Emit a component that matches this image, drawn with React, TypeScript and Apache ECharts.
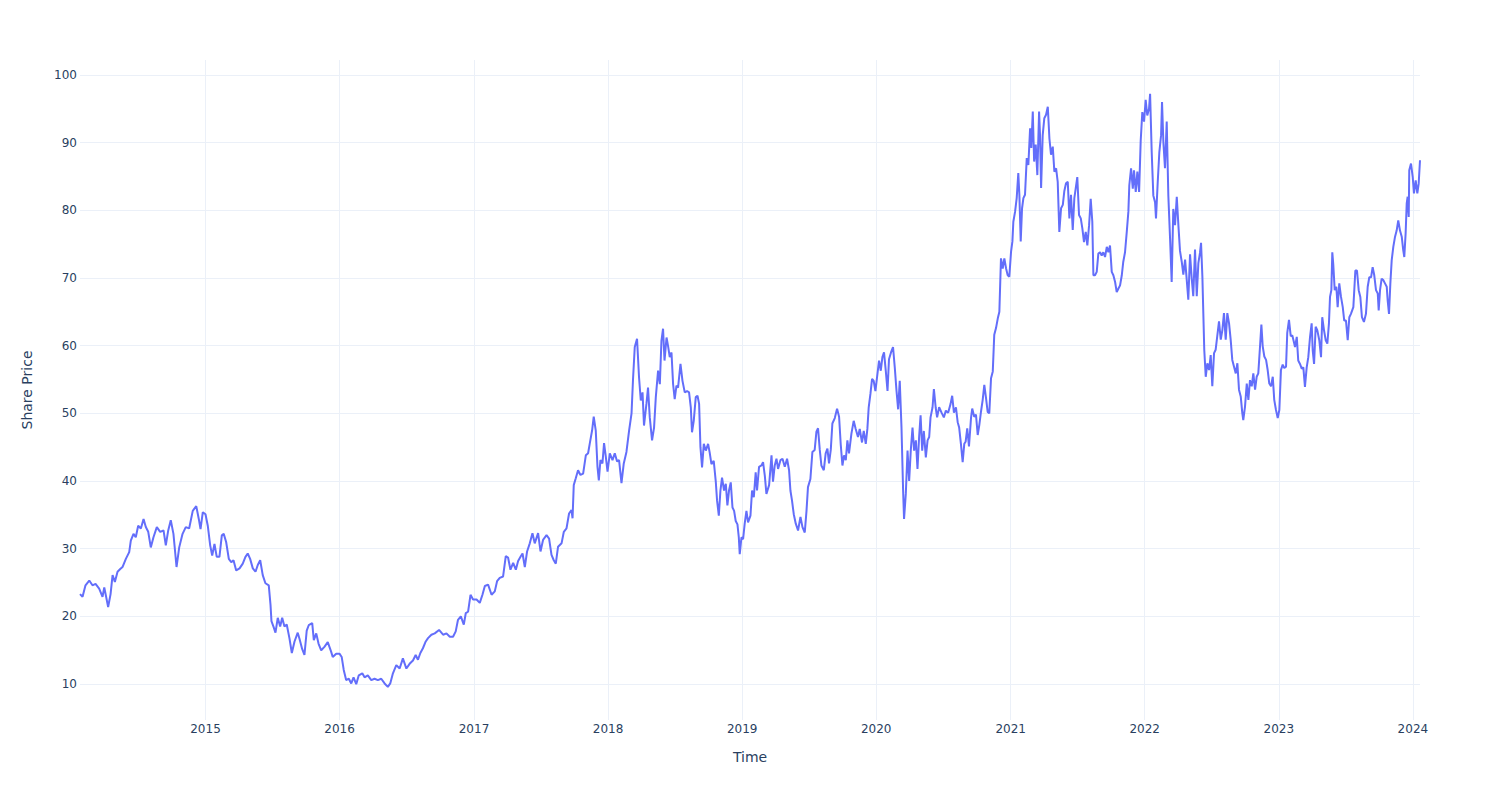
import React, { useEffect, useRef } from "react";
import * as echarts from "echarts";

// Share price readings: [decimal year, price]
const y2014: [number, number][] = [
  [2014.064,23.3],[2014.083,22.9],[2014.105,24.6],[2014.133,25.3],[2014.157,24.6],[2014.180,24.8],[2014.207,24.1],[2014.232,22.9],[2014.245,24.3],[2014.274,21.4],[2014.292,23.3],[2014.307,26.1],[2014.324,25.1],[2014.344,26.6],[2014.364,27.0],[2014.381,27.3],[2014.406,28.5],[2014.431,29.5],[2014.443,31.2],[2014.463,32.2],[2014.480,31.7],[2014.498,33.4],[2014.518,33.0],[2014.538,34.4],[2014.555,33.2],[2014.573,32.5],[2014.592,30.2],[2014.612,31.7],[2014.637,33.2],[2014.662,32.5],[2014.687,32.7],[2014.704,30.5],[2014.722,32.7],[2014.741,34.2],[2014.761,32.2],[2014.784,27.3],[2014.804,30.2],[2014.829,32.2],[2014.853,33.2],[2014.878,33.0],[2014.905,35.6],[2014.931,36.3],[2014.950,34.4],[2014.963,32.9],[2014.980,35.4],
];
const y2015: [number, number][] = [
  [2015.000,35.1],[2015.017,33.4],[2015.035,30.5],[2015.050,29.0],[2015.067,30.7],[2015.084,28.8],[2015.104,28.8],[2015.122,32.0],[2015.136,32.2],[2015.154,31.0],[2015.174,28.5],[2015.192,28.0],[2015.209,28.3],[2015.229,26.8],[2015.254,27.1],[2015.278,27.8],[2015.298,28.8],[2015.315,29.3],[2015.333,28.5],[2015.353,27.1],[2015.373,26.6],[2015.390,27.6],[2015.408,28.3],[2015.427,26.1],[2015.447,24.9],[2015.472,24.6],[2015.485,21.7],[2015.492,19.3],[2015.507,18.5],[2015.522,17.6],[2015.539,19.8],[2015.557,18.5],[2015.572,19.8],[2015.589,18.5],[2015.606,18.8],[2015.626,16.8],[2015.644,14.6],[2015.664,16.3],[2015.688,17.6],[2015.701,16.7],[2015.721,15.2],[2015.738,14.3],[2015.755,17.9],[2015.770,18.7],[2015.796,19.0],[2015.808,16.5],[2015.826,17.5],[2015.843,16.0],[2015.863,15.0],[2015.887,15.5],[2015.912,16.2],[2015.937,14.8],[2015.949,14.0],[2015.975,14.5],[2015.999,14.5],
];
const y2016: [number, number][] = [
  [2016.016,14.0],[2016.031,12.1],[2016.049,10.6],[2016.069,10.8],[2016.087,10.1],[2016.104,11.0],[2016.124,10.0],[2016.143,11.3],[2016.169,11.6],[2016.186,11.0],[2016.210,11.3],[2016.236,10.6],[2016.260,10.8],[2016.285,10.6],[2016.310,10.8],[2016.335,10.1],[2016.359,9.6],[2016.377,10.1],[2016.397,11.6],[2016.422,12.8],[2016.447,12.3],[2016.471,13.8],[2016.497,12.3],[2016.521,13.0],[2016.546,13.5],[2016.566,14.3],[2016.583,13.6],[2016.601,14.6],[2016.620,15.3],[2016.641,16.3],[2016.658,16.8],[2016.683,17.3],[2016.708,17.5],[2016.740,18.0],[2016.770,17.3],[2016.795,17.5],[2016.820,17.0],[2016.844,17.0],[2016.864,17.8],[2016.881,19.5],[2016.902,20.0],[2016.924,18.8],[2016.939,20.5],[2016.956,20.7],[2016.974,23.2],[2016.993,22.5],
];
const y2017: [number, number][] = [
  [2017.019,22.5],[2017.043,22.0],[2017.063,23.2],[2017.081,24.5],[2017.105,24.7],[2017.131,23.2],[2017.155,23.7],[2017.172,25.2],[2017.192,25.7],[2017.217,25.9],[2017.237,28.9],[2017.254,28.7],[2017.272,26.9],[2017.292,27.9],[2017.312,26.9],[2017.329,28.2],[2017.349,28.9],[2017.362,29.3],[2017.379,27.3],[2017.396,29.6],[2017.416,30.8],[2017.436,32.3],[2017.453,30.8],[2017.478,32.3],[2017.496,29.6],[2017.515,31.3],[2017.541,32.0],[2017.560,31.5],[2017.578,29.1],[2017.595,28.3],[2017.610,27.8],[2017.627,30.3],[2017.653,30.8],[2017.670,32.5],[2017.690,33.0],[2017.709,35.2],[2017.727,35.7],[2017.735,34.5],[2017.744,39.4],[2017.759,40.4],[2017.776,41.6],[2017.794,40.9],[2017.814,41.1],[2017.834,43.8],[2017.851,44.1],[2017.864,45.6],[2017.881,47.5],[2017.893,49.5],[2017.908,47.5],[2017.921,42.1],[2017.931,40.1],[2017.943,43.1],[2017.958,42.6],[2017.970,45.6],[2017.983,43.6],[2017.996,41.4],
];
const y2018: [number, number][] = [
  [2018.013,44.1],[2018.033,43.1],[2018.050,44.1],[2018.067,42.9],[2018.082,43.1],[2018.100,39.7],[2018.117,42.6],[2018.137,44.3],[2018.157,47.5],[2018.175,50.0],[2018.186,55.0],[2018.199,59.8],[2018.216,61.0],[2018.231,55.3],[2018.244,51.9],[2018.257,53.1],[2018.268,48.2],[2018.286,51.4],[2018.298,53.8],[2018.311,49.4],[2018.328,46.0],[2018.343,47.9],[2018.356,52.4],[2018.373,56.3],[2018.386,54.3],[2018.398,60.7],[2018.410,62.5],[2018.421,57.8],[2018.436,61.2],[2018.447,60.0],[2018.460,58.3],[2018.473,59.0],[2018.485,54.3],[2018.497,52.1],[2018.510,54.1],[2018.522,53.8],[2018.540,57.3],[2018.555,54.8],[2018.572,53.1],[2018.589,53.3],[2018.604,53.1],[2018.617,50.9],[2018.626,47.2],[2018.639,48.9],[2018.654,52.4],[2018.667,52.6],[2018.679,51.4],[2018.689,45.0],[2018.701,42.0],[2018.714,45.5],[2018.729,44.5],[2018.746,45.5],[2018.758,44.2],[2018.771,42.5],[2018.788,43.0],[2018.803,40.0],[2018.813,37.1],[2018.826,34.9],[2018.838,38.6],[2018.850,40.5],[2018.865,38.6],[2018.878,39.6],[2018.890,36.4],[2018.902,38.6],[2018.915,39.8],[2018.928,36.1],[2018.940,35.6],[2018.952,34.1],[2018.965,33.6],[2018.975,31.7],[2018.982,29.2],[2018.995,31.7],
];
const y2019: [number, number][] = [
  [2019.007,31.4],[2019.019,33.7],[2019.032,35.6],[2019.044,33.9],[2019.062,34.9],[2019.074,38.6],[2019.087,37.6],[2019.101,41.3],[2019.111,38.6],[2019.126,42.1],[2019.144,42.3],[2019.156,42.8],[2019.169,40.8],[2019.181,38.1],[2019.201,39.4],[2019.219,43.8],[2019.230,39.9],[2019.243,42.3],[2019.256,43.3],[2019.268,41.8],[2019.286,43.1],[2019.301,43.3],[2019.318,42.1],[2019.335,43.3],[2019.350,41.6],[2019.360,38.6],[2019.372,37.1],[2019.385,35.1],[2019.400,33.7],[2019.417,32.7],[2019.435,34.7],[2019.450,33.2],[2019.467,32.4],[2019.480,35.6],[2019.491,39.1],[2019.509,40.3],[2019.524,44.3],[2019.541,44.6],[2019.554,47.3],[2019.566,47.8],[2019.579,44.6],[2019.591,42.3],[2019.609,41.6],[2019.623,44.1],[2019.636,44.8],[2019.648,42.6],[2019.661,44.6],[2019.673,48.5],[2019.691,49.3],[2019.708,50.7],[2019.723,49.5],[2019.735,45.5],[2019.748,42.3],[2019.760,43.8],[2019.773,43.1],[2019.785,46.0],[2019.797,44.1],[2019.815,47.0],[2019.832,48.9],[2019.847,47.7],[2019.864,46.5],[2019.877,47.7],[2019.894,45.7],[2019.907,47.4],[2019.922,45.5],[2019.934,47.7],[2019.944,50.9],[2019.957,52.9],[2019.969,55.1],[2019.981,54.8],[2019.994,53.3],
];
const y2020: [number, number][] = [
  [2020.006,55.3],[2020.021,57.8],[2020.034,56.3],[2020.046,58.3],[2020.058,59.0],[2020.071,56.3],[2020.084,53.3],[2020.095,58.0],[2020.110,59.0],[2020.125,59.8],[2020.138,56.8],[2020.151,53.3],[2020.163,50.6],[2020.175,54.8],[2020.188,47.9],[2020.200,38.6],[2020.207,34.4],[2020.220,38.1],[2020.233,44.5],[2020.245,40.0],[2020.257,44.5],[2020.270,47.9],[2020.282,44.5],[2020.295,46.0],[2020.307,41.8],[2020.319,46.5],[2020.330,49.7],[2020.342,44.5],[2020.354,47.4],[2020.369,43.5],[2020.382,46.0],[2020.394,46.5],[2020.404,49.4],[2020.419,50.9],[2020.429,53.6],[2020.442,50.9],[2020.453,49.4],[2020.468,50.9],[2020.486,50.1],[2020.503,49.4],[2020.518,50.4],[2020.535,50.1],[2020.553,51.4],[2020.565,52.6],[2020.578,50.1],[2020.593,50.9],[2020.606,48.7],[2020.617,47.9],[2020.630,45.5],[2020.643,42.8],[2020.655,45.5],[2020.665,45.8],[2020.677,47.8],[2020.690,45.1],[2020.705,49.3],[2020.714,50.7],[2020.729,49.5],[2020.742,49.8],[2020.755,46.8],[2020.767,48.3],[2020.779,50.2],[2020.792,52.0],[2020.804,54.2],[2020.817,52.2],[2020.829,50.2],[2020.841,50.0],[2020.854,55.2],[2020.867,56.2],[2020.878,61.6],[2020.891,62.6],[2020.904,64.0],[2020.916,65.0],[2020.928,72.9],[2020.941,71.4],[2020.953,72.9],[2020.966,71.4],[2020.978,70.4],[2020.990,70.2],
];
const y2021: [number, number][] = [
  [2021.003,73.9],[2021.013,75.4],[2021.020,78.3],[2021.033,79.8],[2021.045,81.8],[2021.057,85.5],[2021.065,82.3],[2021.075,75.4],[2021.085,80.3],[2021.095,81.8],[2021.107,82.3],[2021.120,87.7],[2021.132,86.7],[2021.145,92.1],[2021.154,89.2],[2021.165,94.6],[2021.175,87.2],[2021.187,89.7],[2021.199,85.2],[2021.212,94.6],[2021.219,91.1],[2021.227,83.3],[2021.239,91.1],[2021.251,93.6],[2021.264,94.1],[2021.277,95.3],[2021.289,90.6],[2021.301,88.2],[2021.314,89.4],[2021.326,85.7],[2021.339,86.2],[2021.351,84.2],[2021.363,76.8],[2021.376,80.3],[2021.389,80.8],[2021.400,82.8],[2021.413,84.0],[2021.426,84.2],[2021.438,78.8],[2021.450,82.3],[2021.463,77.1],[2021.475,81.8],[2021.497,84.9],[2021.510,79.3],[2021.523,78.8],[2021.535,77.3],[2021.547,75.3],[2021.560,76.8],[2021.572,74.8],[2021.585,77.8],[2021.597,81.7],[2021.609,78.3],[2021.617,70.4],[2021.629,70.4],[2021.642,70.9],[2021.654,73.6],[2021.667,73.8],[2021.679,73.3],[2021.691,73.8],[2021.704,73.1],[2021.717,74.6],[2021.729,73.8],[2021.741,74.8],[2021.754,70.9],[2021.766,70.4],[2021.779,69.4],[2021.791,67.9],[2021.803,68.4],[2021.816,68.9],[2021.829,70.4],[2021.840,72.4],[2021.853,73.8],[2021.866,76.8],[2021.878,79.8],[2021.885,83.7],[2021.898,86.2],[2021.911,83.2],[2021.920,85.9],[2021.933,82.7],[2021.945,85.7],[2021.958,82.7],[2021.970,90.3],[2021.982,94.5],[2021.995,93.1],
];
const y2022: [number, number][] = [
  [2022.007,96.3],[2022.019,94.0],[2022.032,95.0],[2022.040,97.2],[2022.052,88.6],[2022.064,82.2],[2022.077,81.2],[2022.084,78.8],[2022.097,84.2],[2022.109,88.6],[2022.122,91.1],[2022.129,96.0],[2022.139,90.1],[2022.151,86.2],[2022.164,93.1],[2022.176,82.2],[2022.189,75.8],[2022.201,69.4],[2022.213,80.2],[2022.226,77.8],[2022.239,82.0],[2022.251,77.8],[2022.263,74.0],[2022.276,72.4],[2022.288,70.5],[2022.301,72.7],[2022.313,69.8],[2022.325,66.8],[2022.338,73.5],[2022.351,69.8],[2022.362,67.3],[2022.375,74.2],[2022.388,67.3],[2022.400,72.2],[2022.412,73.7],[2022.420,75.2],[2022.430,70.2],[2022.437,64.8],[2022.444,59.4],[2022.455,55.4],[2022.467,57.4],[2022.480,56.4],[2022.492,58.6],[2022.504,54.0],[2022.517,58.9],[2022.529,59.4],[2022.541,61.4],[2022.554,63.6],[2022.567,60.9],[2022.579,62.3],[2022.591,64.8],[2022.604,60.9],[2022.616,64.8],[2022.629,63.3],[2022.641,60.9],[2022.653,57.9],[2022.666,56.9],[2022.679,55.9],[2022.691,57.4],[2022.703,53.5],[2022.716,52.5],[2022.728,50.0],[2022.735,49.0],[2022.748,51.0],[2022.761,54.4],[2022.773,52.0],[2022.785,54.9],[2022.798,54.0],[2022.810,55.9],[2022.823,53.5],[2022.835,55.4],[2022.847,55.9],[2022.860,59.9],[2022.870,63.1],[2022.880,59.9],[2022.892,58.4],[2022.905,57.9],[2022.917,56.4],[2022.929,54.4],[2022.942,54.0],[2022.955,55.4],[2022.966,52.0],[2022.979,50.5],[2022.992,49.3],
];
const y2023: [number, number][] = [
  [2023.004,50.5],[2023.016,56.4],[2023.029,57.2],[2023.041,56.7],[2023.054,56.9],[2023.063,61.9],[2023.076,63.8],[2023.089,61.4],[2023.101,61.5],[2023.113,60.5],[2023.121,59.8],[2023.134,61.3],[2023.145,57.8],[2023.158,57.3],[2023.171,56.6],[2023.183,56.8],[2023.195,53.9],[2023.208,56.8],[2023.220,58.3],[2023.233,61.3],[2023.245,63.3],[2023.253,59.3],[2023.263,57.3],[2023.275,62.8],[2023.287,62.3],[2023.302,60.8],[2023.315,58.3],[2023.324,64.2],[2023.337,62.3],[2023.350,60.8],[2023.362,60.3],[2023.374,63.3],[2023.382,67.2],[2023.392,68.2],[2023.399,73.8],[2023.406,72.1],[2023.417,68.2],[2023.429,68.7],[2023.439,65.7],[2023.451,69.2],[2023.464,67.2],[2023.477,65.7],[2023.488,63.7],[2023.501,63.7],[2023.514,60.8],[2023.526,64.2],[2023.538,64.7],[2023.556,65.7],[2023.571,71.1],[2023.583,71.1],[2023.596,68.2],[2023.608,67.2],[2023.620,64.2],[2023.635,63.5],[2023.650,64.7],[2023.663,68.7],[2023.675,70.1],[2023.688,70.1],[2023.700,71.6],[2023.712,70.4],[2023.725,68.2],[2023.738,67.7],[2023.745,65.2],[2023.755,68.2],[2023.767,69.9],[2023.779,69.7],[2023.792,69.2],[2023.805,68.7],[2023.812,66.7],[2023.822,64.7],[2023.832,69.2],[2023.842,72.6],[2023.854,74.6],[2023.867,76.1],[2023.879,77.0],[2023.891,78.5],[2023.904,77.0],[2023.917,76.1],[2023.928,74.1],[2023.936,73.1],[2023.946,76.6],[2023.954,81.0],[2023.961,82.0],[2023.969,79.0],[2023.973,85.9],[2023.986,86.9],[2023.999,84.9],
];
const y2024: [number, number][] = [
  [2024.008,82.5],[2024.021,84.4],[2024.033,82.5],[2024.043,83.9],[2024.053,87.4],
];

const yRange = [4.7, 102.2];
const xTitle = "Time";
const yTitle = "Share Price";

const FONT = "'DejaVu Sans', Verdana, sans-serif";
const TEXT = "#2a3f5f";
const GRID = "#ebf0f8";
const LINE = "#636efa";
const YEAR_MS = 365 * 24 * 3600 * 1000;

// decimal year -> UTC timestamp
function toTime(d: number): number {
  const y = Math.floor(d);
  const s = Date.UTC(y, 0, 1);
  const e = Date.UTC(y + 1, 0, 1);
  return s + (d - y) * (e - s);
}

export default function App() {
  const ref = useRef<HTMLDivElement>(null);
  useEffect(() => {
    if (!ref.current) return;
    const chart = echarts.init(ref.current, undefined, { renderer: "svg" });
    const all = [...y2014, ...y2015, ...y2016, ...y2017, ...y2018, ...y2019, ...y2020, ...y2021, ...y2022, ...y2023, ...y2024];
    const data = all.map(([t, v]) => [toTime(t), v]);
    chart.setOption({
      animation: false,
      useUTC: true,
      backgroundColor: "#ffffff",
      grid: { left: 80, right: 80, top: 60, bottom: 80 },
      xAxis: {
        type: "time",
        min: "dataMin",
        max: "dataMax",
        splitNumber: 10,
        minInterval: YEAR_MS,
        maxInterval: YEAR_MS * 1.01,
        axisLine: { show: false },
        axisTick: { show: false },
        axisLabel: {
          formatter: "{yyyy}",
          color: TEXT,
          fontSize: 12,
          fontFamily: FONT,
          margin: 3,
          showMinLabel: false,
          showMaxLabel: false,
        },
        splitLine: { show: true, showMinLine: false, showMaxLine: false, lineStyle: { color: GRID, width: 1 } },
        name: xTitle,
        nameLocation: "middle",
        nameGap: 30,
        nameTextStyle: { color: TEXT, fontSize: 14, fontFamily: FONT },
      },
      yAxis: {
        type: "value",
        min: yRange[0],
        max: yRange[1],
        splitNumber: 10,
        axisLine: { show: false },
        axisTick: { show: false },
        axisLabel: {
          color: TEXT,
          fontSize: 12,
          fontFamily: FONT,
          margin: 3,
          showMinLabel: false,
          showMaxLabel: false,
        },
        splitLine: { show: true, showMinLine: false, showMaxLine: false, lineStyle: { color: GRID, width: 1 } },
        name: yTitle,
        nameLocation: "middle",
        nameGap: 46,
        nameTextStyle: { color: TEXT, fontSize: 14, fontFamily: FONT },
      },
      series: [
        {
          type: "line",
          data,
          showSymbol: false,
          symbol: "none",
          lineStyle: { color: LINE, width: 2 },
          itemStyle: { color: LINE },
        },
      ],
    });
    return () => chart.dispose();
  }, []);
  return <div ref={ref} style={{ position: "absolute", left: 0, top: 0, width: 1500, height: 800 }} />;
}
